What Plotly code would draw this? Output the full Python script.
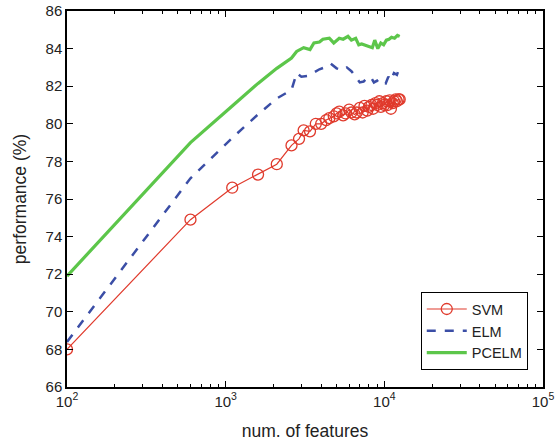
import plotly.graph_objects as go

svm_x = [100, 600, 1100, 1600, 2100, 2600, 2900, 3100, 3400, 3700, 4000, 4300, 4500, 4800, 5000,
         5200, 5500, 5700, 6000, 6200, 6500, 6700, 7000, 7300, 7500, 7800, 8000, 8300, 8500, 8800,
         9000, 9300, 9500, 9800, 10000, 10300, 10500, 10800, 11000, 11300, 11500, 11800, 12000, 12300, 12500]
svm_y = [68.0, 74.9, 76.6, 77.3, 77.85, 78.85, 79.2, 79.65, 79.6, 80.0, 80.0, 80.2, 80.3, 80.4, 80.55,
         80.65, 80.45, 80.55, 80.75, 80.6, 80.5, 80.6, 80.85, 80.6, 80.95, 80.7, 80.9, 81.0, 80.8, 81.1,
         81.0, 81.2, 80.9, 81.1, 81.0, 81.2, 81.0, 81.25, 80.8, 81.1, 81.2, 81.3, 81.2, 81.3, 81.3]

elm_x = [100, 600, 1100, 1600, 2100, 2600, 2800, 3000, 3300, 3600, 3900, 4200, 4600, 5000, 5400,
         5800, 6200, 6600, 7000, 7400, 7800, 8200, 8600, 9000, 9400, 9800, 10200, 10600, 11000, 11500,
         12000, 12400]
elm_y = [68.4, 77.1, 79.25, 80.5, 81.35, 81.8, 82.7, 82.5, 82.55, 82.75, 82.9, 83.0, 83.2, 82.95, 82.85,
         83.0, 82.8, 82.5, 82.2, 82.25, 82.45, 82.5, 82.2, 82.3, 82.1, 82.2, 82.15, 82.5, 82.3, 82.7,
         82.6, 82.95]

pcelm_x = [100, 600, 1100, 1600, 2100, 2600, 2800, 3100, 3400, 3600, 3900, 4100, 4500, 4800, 5200,
           5500, 5900, 6200, 6600, 6900, 7200, 7500, 8000, 8400, 8700, 9100, 9500, 9900, 10300, 10700,
           11100, 11600, 12100, 12500]
pcelm_y = [71.9, 79.0, 80.95, 82.15, 82.95, 83.5, 83.85, 84.05, 83.95, 84.3, 84.35, 84.5, 84.55, 84.3,
           84.55, 84.5, 84.65, 84.45, 84.55, 84.2, 84.25, 84.2, 84.1, 84.05, 84.45, 84.0, 84.3, 84.2,
           84.45, 84.5, 84.6, 84.55, 84.7, 84.65]

xticks = [100, 1000, 10000, 100000]
xtick_text = ["10<sup>2</sup>", "10<sup>3</sup>", "10<sup>4</sup>", "10<sup>5</sup>"]
xminor = [m * d for d in (100, 1000, 10000) for m in range(2, 10)]
yticks = list(range(66, 87, 2))

fig = go.Figure()
fig.add_trace(go.Scatter(x=svm_x, y=svm_y, mode="lines+markers", name="SVM",
                         line=dict(color="#e03a2c", width=1.2),
                         marker=dict(symbol="circle-open", size=11, color="#e03a2c",
                                     line=dict(width=1.3, color="#e03a2c"))))
fig.add_trace(go.Scatter(x=elm_x, y=elm_y, mode="lines", name="ELM",
                         line=dict(color="#3b4ea6", width=2.5, dash="dash")))
fig.add_trace(go.Scatter(x=pcelm_x, y=pcelm_y, mode="lines", name="PCELM",
                         line=dict(color="#5cc64a", width=3.2)))

fig.update_layout(
    width=558, height=445,
    margin=dict(l=67, r=15, t=11, b=58),
    paper_bgcolor="white", plot_bgcolor="white",
    font=dict(family="Liberation Sans, Arial, sans-serif", size=15, color="#222"),
    showlegend=True,
    legend=dict(x=0.968, y=0.045, xanchor="right", yanchor="bottom",
                bordercolor="black", borderwidth=1, bgcolor="white",
                font=dict(size=14.5), tracegroupgap=0, itemwidth=40),
)
fig.update_xaxes(type="log", range=[2, 5], tickvals=xticks, ticktext=xtick_text,
                 ticks="inside", ticklen=6, tickcolor="black", automargin=False,
                 minor=dict(tickmode="array", tickvals=xminor, ticks="inside", ticklen=3,
                            tickcolor="black", showgrid=False),
                 showline=True, linecolor="black", linewidth=1.5, mirror="allticks",
                 showgrid=False, zeroline=False,
                 title=dict(text="num. of features", font=dict(size=17.5), standoff=16))
fig.update_yaxes(range=[66, 86], tickvals=yticks,
                 ticks="inside", ticklen=6, tickcolor="black", automargin=False,
                 showline=True, linecolor="black", linewidth=1.5, mirror="allticks",
                 showgrid=False, zeroline=False,
                 title=dict(text="performance (%)", font=dict(size=17.5), standoff=14))

fig.write_html("out.html")
